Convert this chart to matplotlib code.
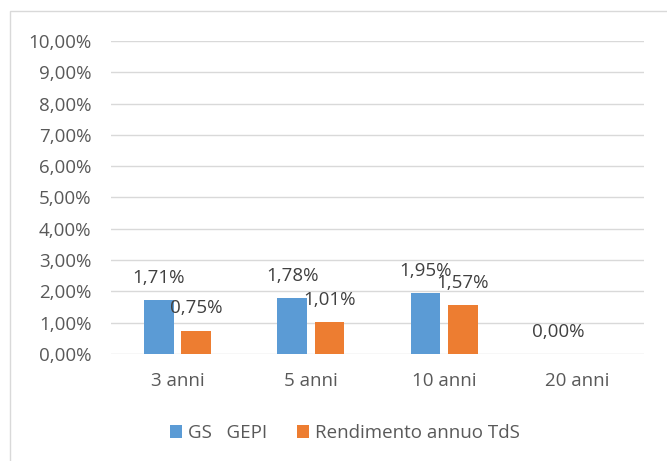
import numpy as np
import matplotlib.pyplot as plt
from matplotlib.patches import Rectangle

plt.rcParams['font.family'] = ['Open Sans', 'DejaVu Sans']

categories = ["3 anni", "5 anni", "10 anni", "20 anni"]
gs_gepi = [1.71, 1.78, 1.95, 0.00]
tds = [0.75, 1.01, 1.57, np.nan]   # no value for 20 anni
series_names = ["GS   GEPI", "Rendimento annuo TdS"]
y_ticks = np.arange(0, 11, 1)

BLUE = "#5B9BD5"
ORANGE = "#ED7D31"
GRID = "#D9D9D9"
TICK_TXT = "#595959"
LABEL_TXT = "#404040"
FS = 13.5


def pct(v):
    return f"{v:.2f}%".replace(".", ",")


fig = plt.figure(figsize=(6.67, 4.61), dpi=100)
# outer chart border (right/bottom run off the picture)
fig.patches.append(Rectangle((10 / 667, -0.1), 1.2, 0.1 + (461 - 11) / 461,
                             transform=fig.transFigure, fill=False,
                             edgecolor=GRID, linewidth=1.0))

ax = fig.add_axes([111 / 667, (461 - 354) / 461, (644 - 111) / 667, (354 - 41) / 461])

x = np.arange(len(categories))
width = 0.224
off = 0.14
bars1 = ax.bar(x - off, gs_gepi, width, color=BLUE, label=series_names[0], zorder=3)
bars2 = ax.bar(x + off, tds, width, color=ORANGE, label=series_names[1], zorder=3)

for bars, vals in ((bars1, gs_gepi), (bars2, tds)):
    for b, v in zip(bars, vals):
        if np.isnan(v):
            continue
        ax.annotate(pct(v), (b.get_x() + b.get_width() / 2, v),
                    xytext=(0, 16), textcoords="offset points",
                    ha="center", va="center", fontsize=FS, color=LABEL_TXT, zorder=4)

ax.set_xlim(-0.5, len(categories) - 0.5)
ax.set_ylim(0, 10)
ax.set_yticks(y_ticks)
ax.set_yticklabels([pct(v) for v in y_ticks])
ax.set_xticks(x)
ax.set_xticklabels(categories)
ax.tick_params(axis="both", length=0, labelsize=FS, labelcolor=TICK_TXT)
ax.tick_params(axis="y", pad=14)
ax.tick_params(axis="x", pad=13)
ax.grid(axis="y", color=GRID, linewidth=1.0, zorder=0)
for s in ax.spines.values():
    s.set_visible(False)

fig.legend(handles=[bars1, bars2], loc="center", ncol=2, frameon=False,
           bbox_to_anchor=(345 / 667, 1 - 433 / 461), fontsize=FS,
           handlelength=0.65, handleheight=0.65, handletextpad=0.3,
           columnspacing=1.6, labelcolor=TICK_TXT)

fig.savefig("out.png", dpi=100)
